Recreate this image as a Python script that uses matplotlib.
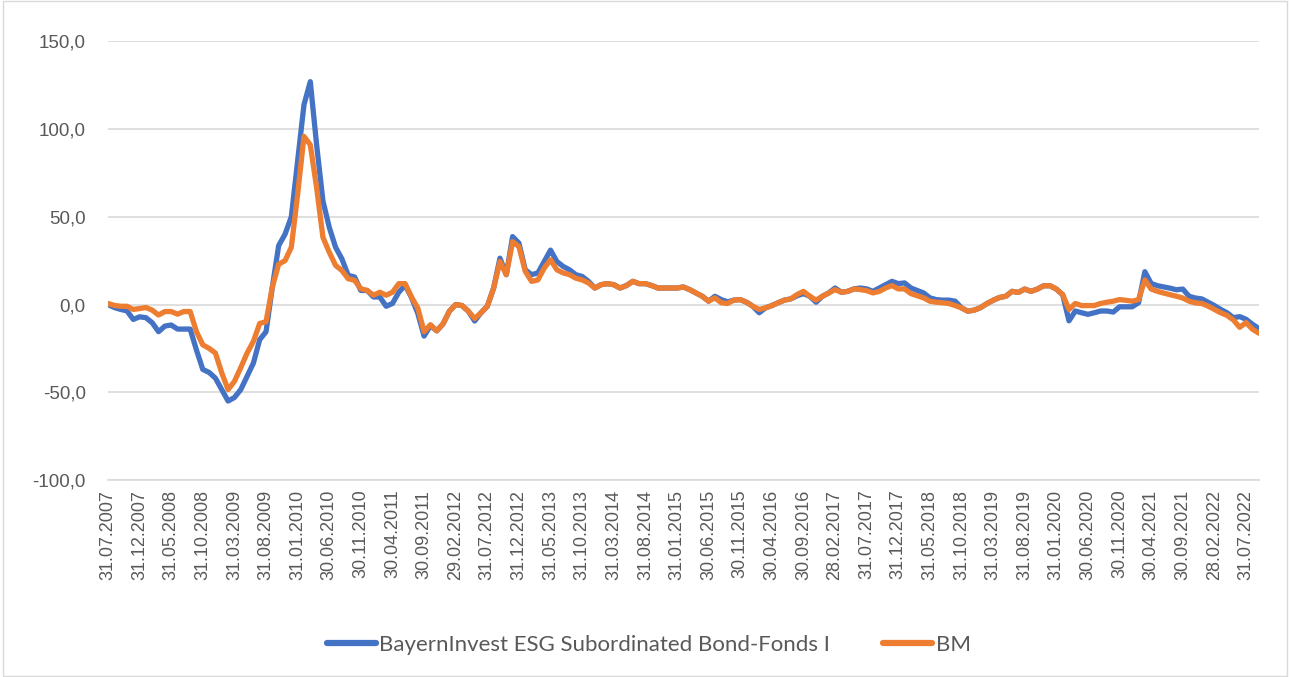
import numpy as np
import pandas as pd
import matplotlib
matplotlib.use("Agg")
import matplotlib.pyplot as plt
from matplotlib.ticker import FuncFormatter, MultipleLocator
from matplotlib.patches import Rectangle

# monthly values, 31.07.2007 .. 30.09.2022
fonds = [0, -1.7, -2.8, -3.6, -8.5, -7, -7.5, -10.4, -15.5, -12.3,
         -11.7, -14, -14, -14, -26, -37, -38.7, -42, -48.5, -55,
         -53, -48.5, -41, -33.4, -20, -15.5, 10, 33.6, 40, 50,
         81.7, 113.8, 127, 91, 59, 44, 32.6, 26, 16.6, 15.7,
         8, 8, 4.3, 4.3, -1, 0.6, 7, 11, 4, -5,
         -18, -12, -15, -11, -3.8, 0, -0.6, -3.8, -9.4, -4.7,
         -1, 9.4, 26.4, 17, 38.7, 35, 19.8, 17, 18, 24.5,
         31, 24.5, 21.7, 19.8, 17, 16, 13.2, 9.4, 11.3, 11.9,
         11.3, 9.4, 10.8, 13.2, 11.9, 11.9, 10.8, 9.4, 9.4, 9.4,
         9.4, 10, 8.5, 6.6, 4.7, 1.9, 4.7, 2.8, 1.5, 2.5,
         2.8, 1.3, -1, -4.7, -1.9, -0.6, 1, 2.5, 3.2, 5,
         6.2, 4.7, 1.3, 4.7, 6.6, 9.4, 7, 7.5, 8.9, 9.4,
         8.9, 7.5, 9.4, 11.3, 13.2, 11.9, 12.3, 9.4, 8, 6.6,
         3.8, 2.8, 2.5, 2.5, 1.9, -1.9, -3.8, -3.2, -1.8, 0.5,
         2.4, 4, 4.7, 7.5, 6.9, 8.8, 7.5, 8.8, 10.7, 10.7,
         8.8, 5.6, -9.3, -3.7, -4.7, -5.6, -4.7, -3.7, -3.7, -4.3,
         -1.3, -1.3, -1.3, 1, 18.7, 12, 10.7, 10, 9.3, 8.4,
         8.8, 4.7, 3.7, 3.2, 1.3, -0.6, -2.8, -4.7, -7.5, -6.9,
         -8.4, -11.2, -13.6]

bm = [0.6, -0.5, -1, -1, -2.8, -2.3, -1.7, -3.2, -6, -4,
      -4, -5.5, -4, -4, -15.5, -23, -25, -27.7, -39, -48.5,
      -43.8, -36, -27.7, -21, -10.8, -9.8, 10, 23, 25, 32.6,
      62.8, 95.8, 91, 66.6, 38.3, 29.8, 22.3, 19.4, 14.7, 13.8,
      9, 8, 5.3, 7, 5.3, 7, 11.9, 11.9, 4.3, -2,
      -15.5, -11.5, -15, -11, -3.8, 0, -0.6, -3.8, -8, -4.7,
      -1, 9.4, 24.5, 17, 35.8, 33, 18.9, 13.2, 14, 20.8,
      25.5, 19.8, 18, 17, 15, 14, 12.3, 9.4, 11.3, 11.9,
      11.3, 9.4, 10.8, 13.2, 11.9, 11.9, 10.8, 9.4, 9.4, 9.4,
      9.4, 10, 8.5, 6.6, 4.7, 1.9, 3.8, 1, 0.6, 2.5,
      2.8, 1.3, -1, -2.8, -1.9, -0.6, 1, 2.5, 3.2, 5.7,
      7.5, 4.7, 2.5, 4.7, 6.6, 8.5, 7, 7.5, 8.9, 8.5,
      7.9, 6.6, 7.5, 9.4, 10.8, 8.9, 8.9, 6.2, 5, 3.8,
      1.9, 1.3, 1, 0.6, -0.6, -1.9, -3.8, -3.2, -1.8, 0.5,
      2.4, 4, 4.7, 7.5, 6.9, 8.8, 7.5, 8.8, 10.7, 10.7,
      8.8, 5.6, -2.8, 0.6, -0.6, -0.6, -0.6, 0.6, 1.3, 1.9,
      2.8, 2.4, 1.9, 2.8, 14, 8.8, 7.5, 6.5, 5.6, 4.7,
      3.7, 1.9, 0.9, 0.6, -0.9, -2.8, -4.7, -6.2, -8.8, -13,
      -10.3, -14, -16.3]

dates = pd.date_range("2007-07-31", periods=len(fonds), freq="ME")
labels = [d.strftime("%d.%m.%Y") for d in dates]

fig = plt.figure(figsize=(12.9, 6.77), dpi=100)
ax = fig.add_axes([0.0837, 0.291, 0.892, 0.648])

x = np.arange(len(fonds))
ax.plot(x, fonds, color="#4472C4", lw=3.8, solid_capstyle="round",
        label="BayernInvest ESG Subordinated Bond-Fonds I", zorder=3)
ax.plot(x, bm, color="#ED7D31", lw=3.8, solid_capstyle="round",
        label="BM", zorder=4)

ax.set_xlim(0, len(fonds) - 1)
ax.set_ylim(-100, 150)
ax.yaxis.set_major_locator(MultipleLocator(50))
ax.yaxis.set_major_formatter(FuncFormatter(lambda v, p: f"{v:.1f}".replace(".", ",")))
ax.grid(axis="y", color="#d9d9d9", lw=1.2)
ax.set_axisbelow(True)

ax.set_xticks(x[::5])
ax.set_xticklabels(labels[::5], rotation=90, fontsize=13, color="#595959",
                   family="Liberation Sans")
for lab in ax.get_yticklabels():
    lab.set_fontsize(13.5)
    lab.set_color("#595959")
    lab.set_family("Liberation Sans")
ax.tick_params(axis="y", length=0, pad=16)
ax.tick_params(axis="x", length=0, pad=7)

for s in ["top", "right", "left"]:
    ax.spines[s].set_visible(False)
ax.spines["bottom"].set_color("#d9d9d9")
ax.spines["bottom"].set_linewidth(1.2)

leg = fig.legend(loc="center", bbox_to_anchor=(0.503, 0.047), ncol=2, frameon=False,
                 prop={"family": "Lato", "size": 16}, handlelength=2.2,
                 handletextpad=0.15, columnspacing=2.4)
for t in leg.get_texts():
    t.set_color("#595959")
for h in leg.get_lines():
    h.set_linewidth(4.5)

fig.patches.append(Rectangle((0.002, 0.002), 0.996, 0.996, transform=fig.transFigure,
                             fill=False, edgecolor="#d9d9d9", lw=1))

fig.savefig("out.png", dpi=100, facecolor="white")
